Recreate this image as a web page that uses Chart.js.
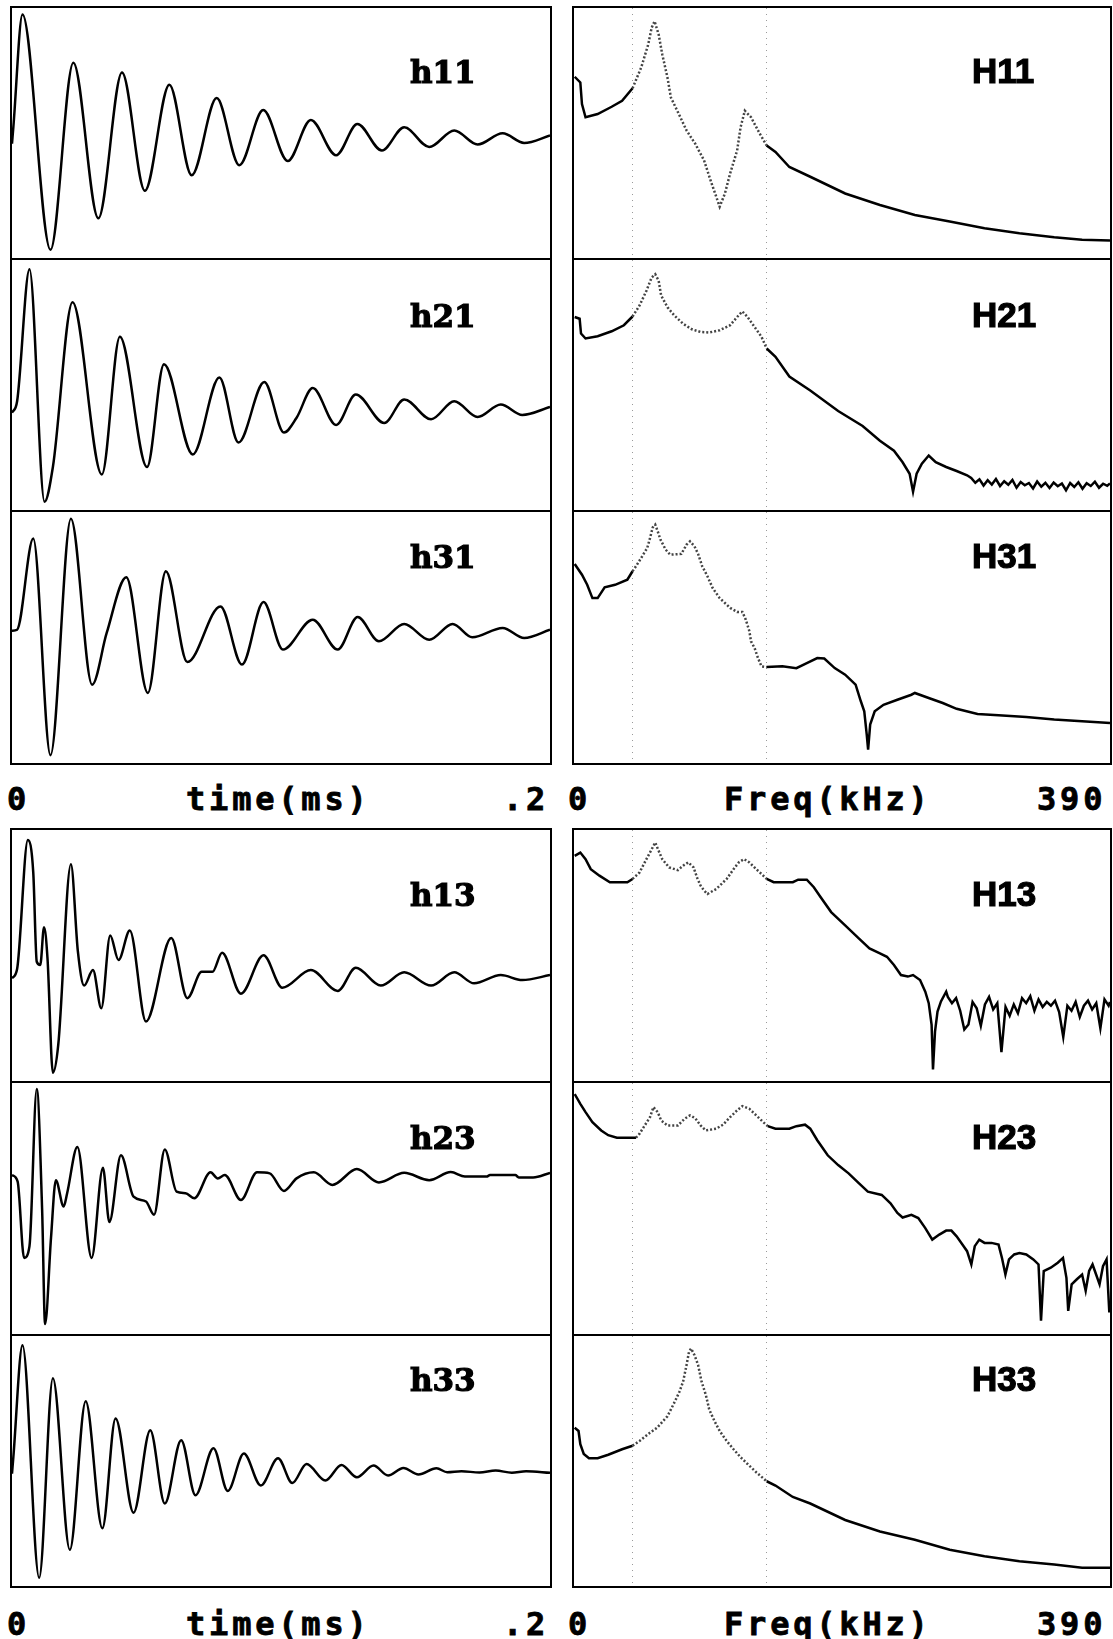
<!DOCTYPE html>
<html>
<head>
<meta charset="utf-8">
<script src="https://cdn.jsdelivr.net/npm/chart.js@4.4.1/dist/chart.umd.min.js"></script>
<style>
  html, body { margin: 0; padding: 0; background: #fff; }
  body { width: 1113px; height: 1639px; position: relative; overflow: hidden; }
  .panel { position: absolute; box-sizing: border-box; border: 2px solid #000; background: #fff; }
  .panel canvas { position: absolute; left: 0; top: 0; }
  .axlab { position: absolute; font: bold 32px "DejaVu Sans Mono", monospace; letter-spacing: 3.8px;
           line-height: 32px; white-space: pre; color: #000; -webkit-text-stroke: 0.8px #000; }
</style>
</head>
<body>
<script>
// axis ranges
const timeMax = 0.2;     // ms
const freqMax = 390;     // kHz
const markerFreqs = [42, 140];

// time responses: time (ms) / relative amplitude (% of panel height)
const h11T = [0, 0.0005, 0.0039, 0.0143, 0.0228, 0.0321, 0.0409, 0.0494, 0.0585, 0.0668, 0.0761, 0.0845, 0.0934,
  0.1025, 0.1111, 0.1205, 0.1284, 0.1375, 0.1458, 0.1551, 0.1644, 0.1731, 0.1824, 0.1904, 0.2];
const h11A = [45.7, 52.3, 97.4, 3.3, 78.1, 15.9, 74.2, 26.9, 69.3, 33.1, 64.0, 37.1, 59.2,
  38.8, 55.2, 41.1, 53.6, 43.0, 52.3, 44.4, 51.0, 45.4, 49.9, 46.0, 49.0];

const h21T = [0, 0.0019, 0.0065, 0.0121, 0.0152, 0.0225, 0.0334, 0.0401, 0.0502, 0.0565, 0.0672, 0.0771, 0.0842,
  0.0938, 0.1011, 0.1058, 0.1118, 0.1205, 0.1278, 0.1384, 0.1458, 0.1558, 0.1644, 0.1731, 0.1817, 0.1897, 0.2];
const h21A = [38.9, 43.5, 96.3, 3.3, 17.2, 83.1, 14.2, 69.3, 17.2, 58.3, 22.2, 53.0, 27.0,
  51.2, 31.0, 36.9, 48.8, 34.0, 46.2, 34.8, 44.2, 36.3, 43.5, 37.2, 42.2, 38.0, 41.2];

const h31T = [0, 0.0019, 0.0079, 0.0143, 0.0219, 0.0298, 0.0352, 0.0425, 0.0505, 0.0572, 0.0652, 0.0775, 0.0855,
  0.0935, 0.1007, 0.1118, 0.1211, 0.1285, 0.1364, 0.1458, 0.1551, 0.1638, 0.1711, 0.1824, 0.1904, 0.2];
const h31A = [52.7, 53.1, 89.4, 3.1, 97.3, 31.2, 51.8, 74.0, 27.9, 76.4, 40.2, 62.4, 39.2,
  64.1, 45.2, 57.1, 45.2, 58.2, 48.5, 55.4, 49.1, 55.4, 50.1, 53.8, 49.8, 53.1];

const h13T = [0, 0.0019, 0.0059, 0.0079, 0.0092, 0.0105, 0.0119, 0.0132, 0.0152, 0.0172, 0.0219, 0.0245, 0.0268,
  0.0301, 0.0332, 0.0365, 0.0396, 0.0438, 0.0498, 0.0592, 0.0652, 0.0705, 0.0745, 0.0781, 0.0851, 0.0935,
  0.1005, 0.1111, 0.1211, 0.1278, 0.1371, 0.1458, 0.1558, 0.1644, 0.1718, 0.1817, 0.1897, 0.2];
const h13A = [40.9, 44.6, 96.0, 83.1, 47.5, 46.2, 61.3, 48.8, 3.3, 14.5, 86.4, 51.5, 38.0,
  44.2, 29.0, 58.0, 48.2, 60.0, 23.7, 57.0, 33.0, 43.5, 43.5, 51.1, 34.8, 50.1,
  37.2, 44.2, 35.9, 45.1, 38.0, 43.3, 38.0, 43.3, 38.9, 42.2, 40.2, 42.2];

const h23T = [0, 0.0021, 0.0045, 0.0065, 0.0092, 0.0112, 0.0123, 0.0145, 0.0163, 0.0192, 0.0205, 0.0243, 0.0296,
  0.0338, 0.0362, 0.0405, 0.0452, 0.0498, 0.0528, 0.0568, 0.0612, 0.0645, 0.0678, 0.0738, 0.0765, 0.0791,
  0.0851, 0.0911, 0.0958, 0.1011, 0.1058, 0.1122, 0.1191, 0.1282, 0.1364, 0.1458, 0.1551, 0.1631, 0.1684,
  0.1764, 0.1777, 0.1871, 0.1884, 0.1937, 0.2];
const h23A = [63.3, 60.7, 30.3, 35.0, 97.6, 49.5, 4.0, 38.3, 61.3, 50.8, 56.1, 74.5, 30.3,
  66.2, 44.6, 71.2, 54.7, 52.8, 47.5, 73.5, 56.7, 56.1, 54.1, 64.4, 62.0, 63.3,
  53.4, 64.4, 64.0, 57.0, 62.0, 64.4, 59.4, 65.7, 60.4, 64.2, 61.3, 64.5, 62.7,
  62.7, 63.3, 63.3, 62.4, 62.4, 64.2];

const h33T = [0, 0.0005, 0.0039, 0.0101, 0.0152, 0.0215, 0.0274, 0.0336, 0.0385, 0.0452, 0.0514, 0.0568, 0.0629,
  0.0682, 0.0749, 0.0802, 0.0862, 0.0925, 0.0989, 0.1042, 0.1095, 0.1165, 0.1225, 0.1282, 0.1344, 0.1398,
  0.1455, 0.1511, 0.1578, 0.1618, 0.1671, 0.1738, 0.1798, 0.1858, 0.1911, 0.2];
const h33A = [44.9, 51.5, 96.3, 3.3, 83.1, 14.5, 73.9, 23.1, 67.0, 29.3, 62.3, 33.0, 58.3,
  36.3, 55.1, 38.0, 53.0, 40.2, 51.1, 41.2, 48.8, 42.2, 48.4, 43.5, 48.2, 44.2,
  47.2, 44.6, 47.1, 45.5, 45.9, 45.4, 46.2, 45.3, 45.9, 45.3];

// frequency responses: frequency (kHz) / relative magnitude (% of panel height)
const H11F = [0.5, 4.6, 5.8, 8.4, 17.2, 27.4, 35.0, 42.6, 48.9, 54.0, 56.5, 58.6, 61.6, 64.2, 68.0, 70.5, 76.8,
  81.9, 88.2, 94.6, 99.7, 103.5, 106.0, 109.8, 113.6, 118.7, 121.2, 124.3, 128.8, 135.2, 140.2, 146.6, 156.7,
  171.9, 197.3, 222.6, 248.0, 273.4, 298.7, 324.1, 349.4, 369.7, 390];
const H11M = [72.5, 70.2, 61.6, 56.3, 57.6, 60.5, 62.9, 67.9, 76.2, 85.4, 92.1, 94.7, 89.4, 81.5, 72.2, 64.2, 57.0,
  51.0, 45.7, 39.1, 30.5, 24.5, 20.5, 25.8, 33.8, 43.0, 52.3, 58.9, 56.3, 49.7, 45.0, 42.4, 36.4,
  32.5, 25.8, 21.2, 17.2, 14.6, 11.9, 9.9, 8.3, 7.3, 7.0];

const H21F = [0.5, 4.1, 5.1, 8.4, 17.2, 27.4, 36.3, 42.6, 47.7, 52.7, 56.5, 59.1, 61.6, 63.4, 68.0, 73.0, 79.4,
  85.7, 92.1, 98.4, 106.0, 113.6, 118.7, 122.5, 126.3, 131.4, 136.4, 140.2, 146.6, 156.7, 171.9, 192.2, 210.0,
  222.6, 232.8, 239.1, 244.2, 246.7, 249.3, 253.1, 258.1, 263.2, 270.8, 278.4, 286.0,
  289, 292, 295, 298, 301, 304, 307, 310, 313, 316, 319, 322, 325, 328, 331, 334, 337, 340, 343, 346,
  349, 352, 355, 358, 361, 364, 367, 370, 373, 376, 379, 382, 385, 388, 390];
const H21M = [77.2, 76.5, 70.6, 68.6, 69.5, 71.5, 73.9, 77.4, 81.8, 87.7, 93.0, 94.3, 91.7, 85.8, 81.1, 77.8, 74.5,
  72.3, 71.2, 71.0, 71.9, 73.9, 77.2, 79.4, 77.2, 73.2, 69.3, 64.6, 61.3, 53.4, 47.8, 39.6, 33.6,
  27.7, 23.7, 19.1, 14.5, 7.3, 14.5, 18.5, 21.8, 19.1, 17.2, 15.6, 13.9,
  12.8, 10.9, 12.3, 9.8, 11.9, 10.2, 12.4, 9.6, 11.5, 10.1, 12.0, 8.9, 11.2, 9.9, 10.8, 8.6, 11.4, 9.3, 10.9, 8.8,
  11.0, 9.5, 10.6, 7.9, 10.8, 9.2, 11.1, 8.5, 10.7, 9.6, 11.3, 8.9, 10.5, 9.7, 10.6];

const H31F = [0.5, 5.8, 9.6, 13.4, 17.2, 22.3, 29.9, 38.8, 42.6, 45.1, 48.9, 53.3, 55.3, 57.3, 59.1, 60.9, 62.9,
  66.7, 70.0, 78.1, 81.9, 84.4, 87.7, 90.3, 93.3, 97.1, 100.9, 106.0, 113.6, 118.7, 122.5, 125.0, 127.6, 128.8,
  131.4, 133.9, 136.4, 140.2, 151.6, 161.8, 169.4, 177.0, 182.1, 189.7, 197.3, 204.9, 208.7, 211.2, 213.0,
  214.0, 215.5, 218.8, 225.2, 235.3, 245.5, 248.0, 258.1, 268.3, 278.4, 293.6, 308.9, 329.1, 349.4, 369.7, 390];
const H31M = [79.3, 75.0, 71.0, 65.7, 65.7, 70.0, 71.0, 73.0, 76.4, 78.4, 81.7, 85.7, 89.6, 93.9, 95.0, 92.3, 89.0,
  85.0, 83.0, 83.3, 87.0, 88.3, 86.3, 83.3, 78.4, 74.4, 69.7, 65.7, 61.8, 60.2, 60.2, 57.1, 52.5, 48.5,
  45.8, 41.8, 38.5, 38.2, 38.5, 37.8, 39.8, 41.8, 41.6, 37.8, 35.2, 31.2, 24.6, 20.6, 11.3,
  5.3, 15.3, 20.6, 23.2, 25.2, 27.2, 27.9, 25.9, 23.9, 21.6, 19.5, 19.0, 18.3, 17.3, 16.6, 15.9];

const H13F = [0.5, 4.6, 8.4, 12.2, 18.5, 26.1, 38.8, 42.6, 47.7, 52.7, 56.5, 59.1, 61.6, 64.2, 69.2, 75.6, 79.4,
  83.2, 87.0, 89.5, 92.1, 94.6, 97.1, 103.5, 111.1, 116.1, 119.9, 123.7, 127.6, 132.6, 136.4, 140.2, 145.3,
  159.2, 163.1, 169.4, 174.5, 179.5, 187.1, 197.3, 207.4, 215.0, 222.6, 227.7, 232.8, 237.9, 242.9, 246.7,
  251.8, 255.6, 258.1, 260.2, 261.2, 262.7, 264.5, 267.0, 270.8,
  272, 275, 278, 281, 284, 287, 290, 293, 296, 299, 302, 305, 308, 311, 314, 317, 320, 323, 326, 329,
  332, 335, 338, 341, 344, 347, 350, 353, 356, 359, 362, 365, 368, 371, 374, 377, 380, 383, 386, 389, 390];
const H13M = [89.7, 91.0, 88.4, 84.4, 81.8, 79.2, 79.2, 80.5, 83.1, 88.4, 92.3, 95.0, 91.7, 88.4, 85.1, 84.0, 85.8,
  87.1, 85.1, 81.1, 77.8, 75.9, 74.5, 76.5, 80.5, 84.4, 87.1, 88.4, 87.1, 84.4, 82.5, 80.5, 79.2,
  79.2, 80.2, 80.2, 77.2, 73.2, 67.3, 62.0, 56.7, 52.8, 50.8, 49.5, 46.2, 42.2, 41.6, 42.2,
  40.2, 35.6, 31.0, 22.4, 4.6, 19.8, 27.7, 31.7, 35.6,
  33.5, 31.0, 33.0, 28.0, 20.5, 22.5, 31.5, 29.0, 22.0, 30.5, 33.5, 28.5, 31.0, 11.5, 29.5, 26.0, 30.5, 27.0, 33.0, 31.0,
  33.8, 28.0, 32.5, 29.5, 31.5, 30.0, 32.0, 27.5, 17.5, 30.0, 28.0, 31.5, 25.5, 30.0, 32.0, 28.5, 31.0, 21.0, 32.5, 30.0, 31.5];

const H23F = [0.5, 4.6, 8.4, 13.4, 19.8, 24.9, 31.2, 45.1, 47.7, 51.5, 55.3, 57.8, 60.9, 63.4, 68.0, 75.6, 80.6,
  84.4, 88.2, 92.1, 95.9, 103.5, 108.5, 113.6, 118.7, 122.5, 127.6, 132.6, 137.7, 141.0, 146.6, 156.7, 161.8,
  168.1, 171.9, 177.0, 184.6, 192.2, 199.8, 207.4, 213.8, 223.9, 230.3, 235.3, 239.1, 245.5, 250.5, 255.6,
  260.7, 265.8, 270.8, 274.6, 278.4, 283.5, 286.0, 289.1, 291.6, 294.9, 298.7, 303.8, 308.9, 311.4, 313.9,
  316.5, 320.3, 324.1, 329.1, 334.2, 338.0, 339.8, 341.8, 346.9, 352.0, 355.8, 358.3, 359.6, 362.1, 365.9,
  369.7, 372.3, 374.8, 377.3, 379.9, 382.4, 384.9, 387.5, 389.5];
const H23M = [95.6, 91.7, 88.4, 84.4, 81.1, 79.2, 78.2, 78.2, 79.8, 83.1, 86.4, 90.4, 88.4, 85.1, 83.1, 83.1, 85.8,
  87.1, 86.0, 83.1, 81.1, 81.8, 83.4, 86.4, 89.1, 90.8, 89.7, 87.1, 84.4, 82.8, 81.8, 81.8, 82.8,
  83.4, 81.8, 77.2, 71.2, 67.3, 64.0, 60.0, 56.7, 55.4, 52.1, 48.2, 46.4, 47.5, 46.2, 42.2,
  37.6, 39.6, 41.2, 41.2, 38.9, 35.0, 33.0, 27.7, 35.0, 37.6, 36.3, 36.3, 35.6, 30.3, 23.7,
  29.7, 31.7, 32.3, 31.7, 29.7, 27.7, 5.3, 25.1, 26.4, 28.4, 30.3, 22.4, 9.2, 19.8, 21.8,
  23.7, 17.2, 25.1, 27.7, 23.7, 19.8, 27.0, 29.7, 8.6];

const H33F = [0.5, 3.3, 4.6, 7.1, 10.9, 17.2, 24.9, 35.0, 42.6, 47.7, 55.3, 60.4, 68.0, 73.5, 76.8, 79.4, 81.9,
  83.7, 85.2, 87.7, 90.3, 92.8, 95.9, 98.4, 102.2, 106.0, 111.1, 116.1, 121.2, 126.3, 132.6, 140.2, 146.6,
  159.2, 171.9, 197.3, 222.6, 248.0, 273.4, 298.7, 324.1, 349.4, 369.7, 390];
const H33M = [63.3, 62.0, 56.7, 52.8, 51.1, 51.1, 52.5, 54.7, 56.1, 58.0, 61.3, 63.3, 67.9, 73.9, 77.8, 81.8, 88.4,
  93.7, 95.0, 92.3, 88.4, 81.8, 76.5, 70.6, 66.0, 62.0, 58.0, 54.7, 51.5, 48.8, 45.5, 41.9, 40.2,
  35.6, 33.0, 26.4, 21.8, 18.5, 14.5, 11.9, 9.9, 8.6, 7.3, 7.3];

// page layout (px)
const colEdges = [[10, 552], [572, 1112]];
const rowLines = [[7, 259, 511, 764], [829, 1082, 1335, 1587]];
const titleBase = [[75, 67, 56], [76, 66, 55]];
const labelBase = [810, 1635];

const panels = [
  { block: 0, row: 0, col: 0, title: 'h11', xs: h11T, ys: h11A },
  { block: 0, row: 1, col: 0, title: 'h21', xs: h21T, ys: h21A },
  { block: 0, row: 2, col: 0, title: 'h31', xs: h31T, ys: h31A },
  { block: 0, row: 0, col: 1, title: 'H11', xs: H11F, ys: H11M },
  { block: 0, row: 1, col: 1, title: 'H21', xs: H21F, ys: H21M },
  { block: 0, row: 2, col: 1, title: 'H31', xs: H31F, ys: H31M },
  { block: 1, row: 0, col: 0, title: 'h13', xs: h13T, ys: h13A },
  { block: 1, row: 1, col: 0, title: 'h23', xs: h23T, ys: h23A },
  { block: 1, row: 2, col: 0, title: 'h33', xs: h33T, ys: h33A },
  { block: 1, row: 0, col: 1, title: 'H13', xs: H13F, ys: H13M },
  { block: 1, row: 1, col: 1, title: 'H23', xs: H23F, ys: H23M },
  { block: 1, row: 2, col: 1, title: 'H33', xs: H33F, ys: H33M },
];

// dotted marker lines + panel name
const panelDecor = {
  id: 'panelDecor',
  beforeDatasetsDraw(chart, args, opts) {
    const ctx = chart.ctx, area = chart.chartArea;
    ctx.save();
    ctx.strokeStyle = '#9a9a9a';
    ctx.lineWidth = 1;
    ctx.setLineDash([1, 5]);
    (opts.markers || []).forEach(f => {
      const x = Math.round(chart.scales.x.getPixelForValue(f)) + 0.5;
      ctx.beginPath();
      ctx.moveTo(x, area.top);
      ctx.lineTo(x, area.bottom);
      ctx.stroke();
    });
    ctx.restore();
  },
  afterDatasetsDraw(chart, args, opts) {
    const ctx = chart.ctx;
    ctx.save();
    ctx.fillStyle = '#000';
    ctx.strokeStyle = '#000';
    ctx.lineWidth = 1.2;
    ctx.font = opts.font;
    ctx.textBaseline = 'alphabetic';
    ctx.fillText(opts.text, opts.x, opts.baseline);
    ctx.strokeText(opts.text, opts.x, opts.baseline);
    ctx.restore();
  }
};

const inBand = c => c.p0.parsed.x >= 41 && c.p1.parsed.x <= 142;

panels.forEach(p => {
  const isFreq = p.col === 1;
  const left = colEdges[p.col][0];
  const width = colEdges[p.col][1] - left;
  const lines = rowLines[p.block];
  const top = lines[p.row] - 1;
  const height = lines[p.row + 1] - lines[p.row] + 2;

  const box = document.createElement('div');
  box.className = 'panel';
  box.style.left = left + 'px';
  box.style.top = top + 'px';
  box.style.width = width + 'px';
  box.style.height = height + 'px';
  const cv = document.createElement('canvas');
  cv.width = width - 4;
  cv.height = height - 4;
  cv.style.width = (width - 4) + 'px';
  cv.style.height = (height - 4) + 'px';
  box.appendChild(cv);
  document.body.appendChild(box);

  const ds = {
    data: p.xs.map((x, i) => ({ x: x, y: p.ys[i] })),
    borderColor: '#000',
    borderWidth: 2.5,
    pointRadius: 0,
    fill: false,
  };
  if (isFreq) {
    ds.tension = 0;
    ds.segment = {
      borderColor: c => inBand(c) ? '#444' : undefined,
      borderDash: c => inBand(c) ? [2, 2] : undefined,
    };
  } else {
    ds.tension = 0.4;
    ds.cubicInterpolationMode = 'monotone';
  }

  new Chart(cv, {
    type: 'line',
    data: { datasets: [ds] },
    options: {
      responsive: false,
      animation: false,
      events: [],
      layout: { padding: 0 },
      scales: {
        x: { type: 'linear', min: 0, max: isFreq ? freqMax : timeMax, display: false },
        y: { type: 'linear', min: 0, max: 100, display: false },
      },
      plugins: {
        legend: { display: false },
        tooltip: { enabled: false },
        panelDecor: {
          text: p.title,
          font: isFreq ? 'bold 35px "Liberation Sans"' : 'bold 31px "DejaVu Serif"',
          x: 398,
          baseline: titleBase[p.block][p.row],
          markers: isFreq ? markerFreqs : [],
        },
      },
    },
    plugins: [panelDecor],
  });
});

// axis captions under each block
const axisTexts = [
  { text: '0', x: 7 }, { text: 'time(ms)', x: 186 }, { text: '.2', x: 503 },
  { text: '0', x: 568 }, { text: 'Freq(kHz)', x: 724 }, { text: '390', x: 1037 },
];
labelBase.forEach(b => {
  axisTexts.forEach(t => {
    const s = document.createElement('div');
    s.className = 'axlab';
    s.textContent = t.text;
    s.style.left = t.x + 'px';
    s.style.top = (b - 27) + 'px';
    document.body.appendChild(s);
  });
});
</script>
</body>
</html>
